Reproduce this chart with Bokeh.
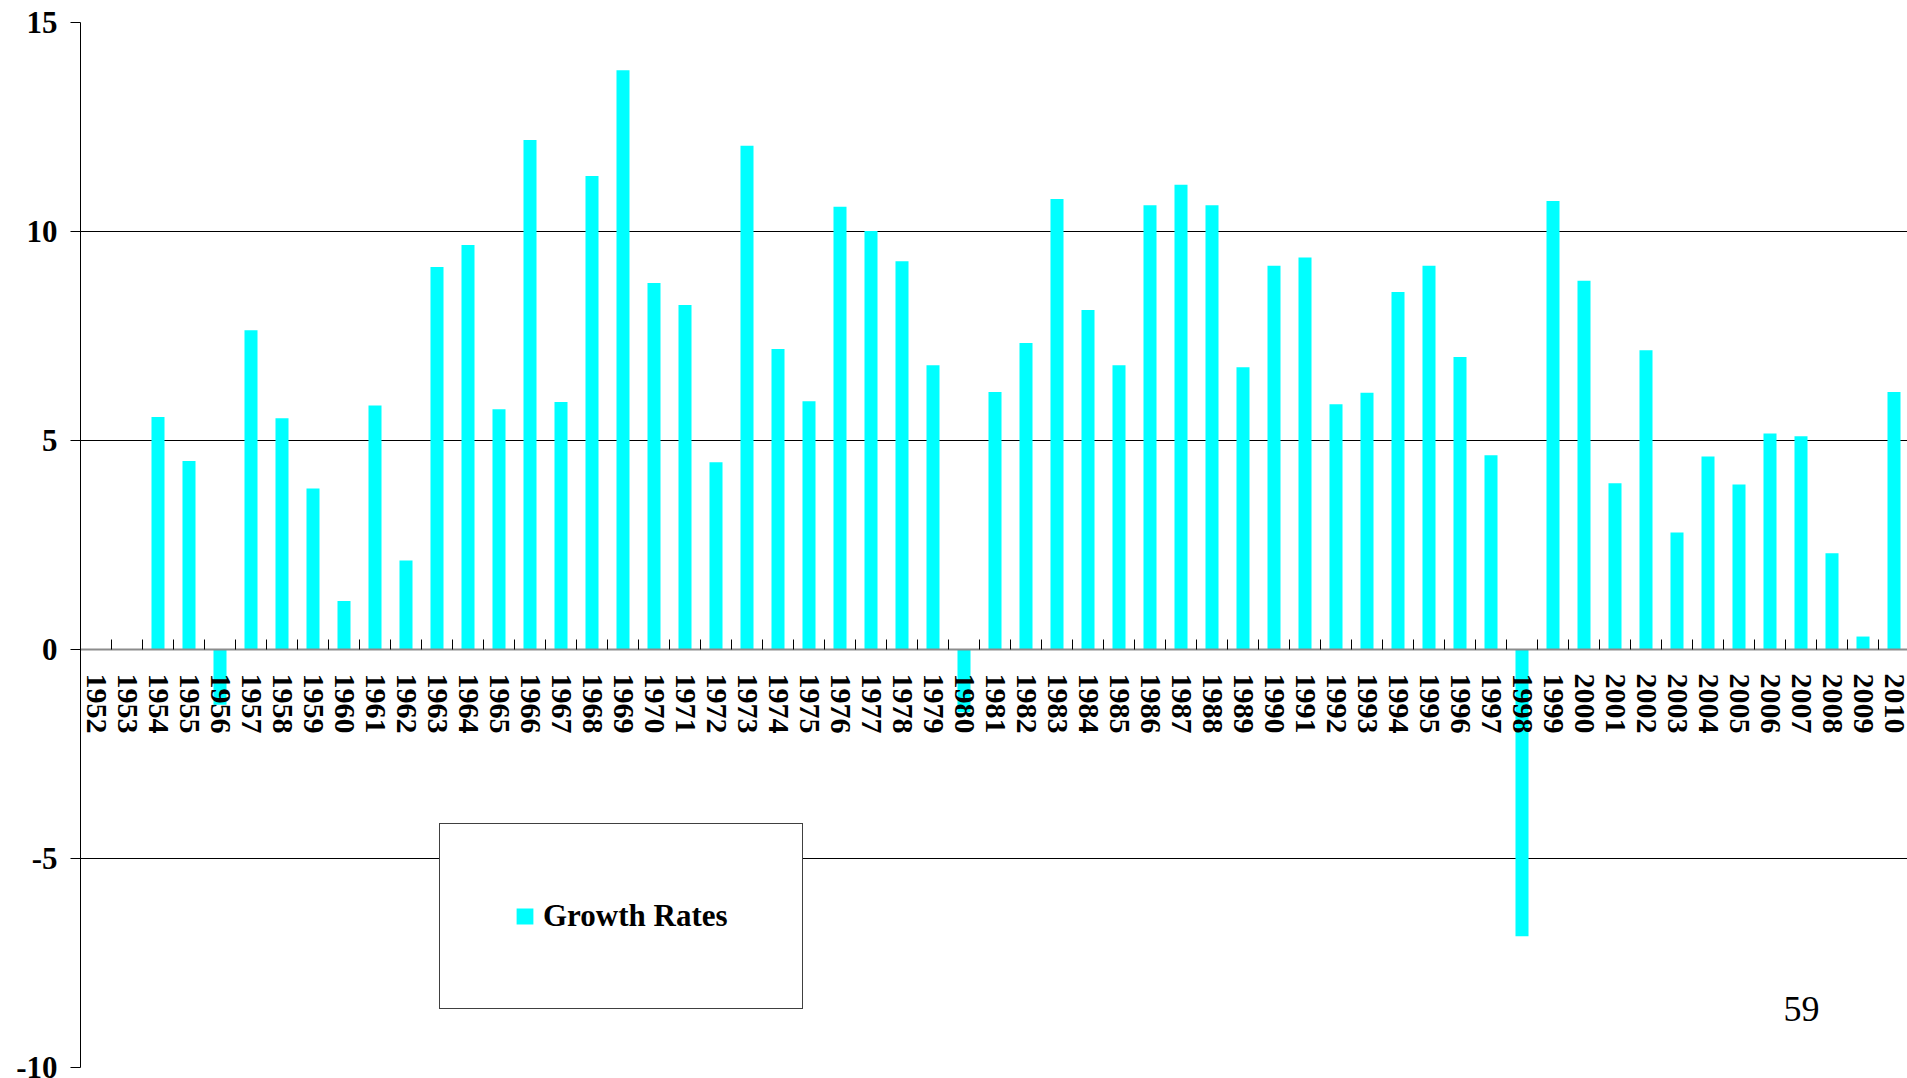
import math
from bokeh.plotting import figure
from bokeh.models import (Range1d, FixedTicker, Legend, LegendItem, Label,
                          ColumnDataSource)
from bokeh.embed import file_html
from bokeh.resources import INLINE

years = [str(y) for y in range(1952, 2011)]
growth = [None, None, 5.56, 4.51, -1.32, 7.64, 5.53, 3.85, 1.16, 5.84,
          2.13, 9.15, 9.68, 5.75, 12.19, 5.92, 11.33, 13.86, 8.77, 8.24,
          4.48, 12.05, 7.19, 5.94, 10.59, 10.01, 9.29, 6.80, -1.50, 6.16,
          7.33, 10.78, 8.12, 6.80, 10.63, 11.12, 10.63, 6.75, 9.18, 9.38,
          5.87, 6.14, 8.55, 9.18, 7.00, 4.65, -6.86, 10.73, 8.82, 3.98,
          7.16, 2.80, 4.62, 3.95, 5.17, 5.10, 2.30, 0.31, 6.16]
y_ticks = [-10, -5, 0, 5, 10, 15]
legend_label = "Growth Rates"
page_number = "59"

FONT = "Liberation Serif"

centers = [i + 0.5 for i in range(len(years))]
tops = [float("nan") if v is None else v for v in growth]
src = ColumnDataSource(dict(x=centers, top=tops, year=years))

W, H = 1907, 1078
LEFT, TOP, BOTTOM = 80, 22, 11
p = figure(width=W, height=H, output_backend="svg", toolbar_location=None,
           x_range=Range1d(0, (W - LEFT) / 31.0), y_range=Range1d(-10, 15),
           min_border_left=LEFT, min_border_right=0, min_border_top=TOP,
           min_border_bottom=BOTTOM)
p.outline_line_color = None
p.background_fill_color = "white"
p.border_fill_color = "white"

r = p.vbar(x="x", top="top", bottom=0, width=0.42, source=src,
           fill_color="#00FFFF", line_color=None)

# y axis
p.yaxis.ticker = FixedTicker(ticks=y_ticks)
p.yaxis.major_label_overrides = {t: str(t) for t in y_ticks}
p.yaxis.axis_line_color = "black"
p.yaxis.axis_line_width = 1
p.yaxis.major_tick_out = 10
p.yaxis.major_tick_in = 0
p.yaxis.major_tick_line_color = "black"
p.yaxis.minor_tick_line_color = None
p.yaxis.major_label_text_font = FONT
p.yaxis.major_label_text_font_style = "bold"
p.yaxis.major_label_text_font_size = "31px"
p.yaxis.major_label_text_color = "black"
p.yaxis.major_label_standoff = 13

# x axis at zero
xa = p.xaxis[0]
xa.fixed_location = 0
xa.ticker = FixedTicker(ticks=centers, minor_ticks=list(range(len(years) + 1)))
xa.major_label_overrides = {c: y for c, y in zip(centers, years)}
xa.major_label_orientation = "vertical"
xa.major_tick_in = 0
xa.major_tick_out = 0
xa.minor_tick_in = 10
xa.minor_tick_out = 0
xa.minor_tick_line_color = "black"
xa.axis_line_color = "#8c8c8c"
xa.axis_line_width = 2
xa.major_label_text_font = FONT
xa.major_label_text_font_style = "bold"
xa.major_label_text_font_size = "30px"
xa.major_label_text_color = "black"
xa.major_label_standoff = 24

p.xgrid.grid_line_color = None
p.ygrid.ticker = FixedTicker(ticks=y_ticks)
p.ygrid.grid_line_color = "black"
p.ygrid.grid_line_alpha = 1.0
p.ygrid.grid_line_width = 1

legend = Legend(items=[LegendItem(label=legend_label, renderers=[r])],
                location=(359, 58), orientation="vertical",
                padding=74, margin=0, spacing=0,
                glyph_width=21, glyph_height=20, label_standoff=8,
                label_text_font=FONT, label_text_font_style="bold",
                label_text_font_size="31px", label_text_color="black",
                border_line_color="#404040", border_line_width=1.2,
                border_line_alpha=1.0,
                background_fill_color="white", background_fill_alpha=1.0)
p.add_layout(legend, "center")

pg = Label(x=(1783 - LEFT) / 31.0, y=-(1008 - 649) / 41.8, text=page_number,
           text_font=FONT, text_font_size="36px", text_color="black",
           text_baseline="middle", text_align="left")
p.add_layout(pg)

open("out.html", "w").write(file_html(p, INLINE))
